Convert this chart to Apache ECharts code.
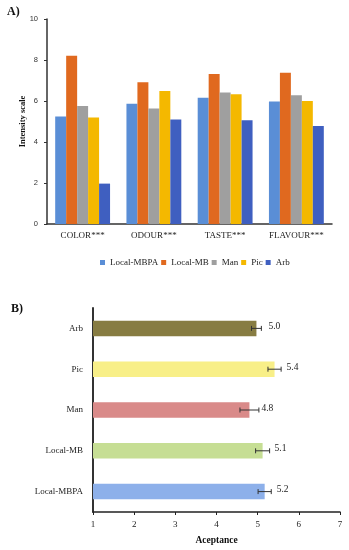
<!DOCTYPE html>
<html>
<head>
<meta charset="utf-8">
<script src="https://cdn.jsdelivr.net/npm/echarts@6/dist/echarts.min.js"></script>
<style>html,body{margin:0;padding:0;background:#fff;}#c{width:349px;height:550px;}</style>
</head>
<body>
<div id="c"></div>
<script>
// ---- Chart A data ----
var attributes = ['COLOR***', 'ODOUR***', 'TASTE***', 'FLAVOUR***'];
var intensityTicks = [0, 2, 4, 6, 8, 10];
var localMBPA = [5.25, 5.87, 6.16, 5.98];
var localMB   = [8.21, 6.91, 7.32, 7.38];
var man       = [5.76, 5.64, 6.42, 6.28];
var pic       = [5.20, 6.49, 6.33, 6.00];
var arb       = [1.97, 5.10, 5.06, 4.78];
var seriesNamesA = ['Local-MBPA', 'Local-MB', 'Man', 'Pic', 'Arb'];

// ---- Chart B data ----
var samples = ['Local-MBPA', 'Local-MB', 'Man', 'Pic', 'Arb'];
var acceptance = [5.17, 5.12, 4.80, 5.41, 4.97];
var acceptanceLabels = ['5.2', '5.1', '4.8', '5.4', '5.0'];
var acceptanceErr = [0.16, 0.17, 0.23, 0.16, 0.12];
var acceptanceTicks = [1, 2, 3, 4, 5, 6, 7];

var colorsA = ['#5a8ed6', '#e0691f', '#9f9f9f', '#f4b800', '#3f5fc0'];
var colorsB = ['#8db0ea', '#c6de94', '#d98a89', '#f8ef88', '#877c42'];
var serif = '"Liberation Serif", "DejaVu Serif", serif';

var chart = echarts.init(document.getElementById('c'), null, {renderer: 'canvas'});
var valsA = [localMBPA, localMB, man, pic, arb];

var seriesA = seriesNamesA.map(function (n, i) {
  return {
    name: n, type: 'bar', xAxisIndex: 0, yAxisIndex: 0,
    data: valsA[i], barGap: '0%', barCategoryGap: '23%',
    itemStyle: {color: colorsA[i]}, silent: true
  };
});

var option = {
  animation: false,
  textStyle: {fontFamily: serif},
  graphic: [
    {type: 'text', left: 7, top: 6, style: {text: 'A)', font: 'bold 12px ' + serif, fill: '#111'}},
    {type: 'text', left: 11, top: 303, style: {text: 'B)', font: 'bold 12px ' + serif, fill: '#111'}}
  ],
  legend: {
    data: seriesNamesA, left: 95, top: 253, itemWidth: 5, itemHeight: 5, itemGap: 3,
    icon: 'rect', textStyle: {fontFamily: serif, fontSize: 9, color: '#222'}
  },
  grid: [
    {left: 47, right: 17, top: 19, bottom: 326},
    {left: 93, right: 9, top: 308, bottom: 38}
  ],
  xAxis: [
    {type: 'category', gridIndex: 0, data: attributes,
     axisLine: {lineStyle: {color: '#333', width: 1.5}},
     axisTick: {show: false},
     axisLabel: {interval: 0, fontFamily: serif, fontSize: 9, color: '#222', margin: 7}},
    {type: 'value', gridIndex: 1, min: 1, max: 7, interval: 1,
     name: 'Aceptance', nameLocation: 'middle', nameGap: 24, nameMoveOverlap: false,
     nameTextStyle: {fontFamily: serif, fontSize: 9.5, fontWeight: 'bold', color: '#111'},
     axisLine: {show: true, lineStyle: {color: '#222', width: 1.5}},
     axisTick: {show: true, length: 3, lineStyle: {color: '#222'}},
     splitLine: {show: false},
     axisLabel: {fontFamily: serif, fontSize: 9, color: '#222', margin: 8}}
  ],
  yAxis: [
    {type: 'value', gridIndex: 0, min: 0, max: 10, interval: 2,
     name: 'Intensity scale', nameLocation: 'middle', nameGap: 20, nameMoveOverlap: false,
     nameTextStyle: {fontFamily: serif, fontSize: 8.5, fontWeight: 'bold', color: '#111'},
     axisLine: {show: true, lineStyle: {color: '#333', width: 1.5}},
     axisTick: {show: true, length: 3, lineStyle: {color: '#333'}},
     splitLine: {show: false},
     axisLabel: {fontFamily: '"Liberation Sans", sans-serif', fontSize: 7.5, color: '#333', margin: 9,
       formatter: function (v) { return intensityTicks.indexOf(v) >= 0 ? String(v) : ''; }}},
    {type: 'category', gridIndex: 1, data: samples,
     axisLine: {show: true, lineStyle: {color: '#333', width: 2}},
     axisTick: {show: false},
     axisLabel: {fontFamily: serif, fontSize: 9, color: '#222', margin: 10}}
  ],
  series: seriesA.concat([
    {type: 'bar', xAxisIndex: 1, yAxisIndex: 1, barWidth: 15.5, silent: true,
     data: acceptance.map(function (v, i) { return {value: v, itemStyle: {color: colorsB[i]}}; }),
     label: {show: true, position: 'right', distance: 12, fontFamily: serif, fontSize: 9.5, color: '#222',
       offset: [0, -2],
       formatter: function (p) { return acceptanceLabels[p.dataIndex]; }}},
    {type: 'custom', xAxisIndex: 1, yAxisIndex: 1, silent: true, z: 10,
     data: acceptance.map(function (v, i) { return [v - acceptanceErr[i], v + acceptanceErr[i], i]; }),
     renderItem: function (params, api) {
       var lo = api.coord([api.value(0), api.value(2)]);
       var hi = api.coord([api.value(1), api.value(2)]);
       var h = 2.5;
       var st = {stroke: '#333', lineWidth: 1};
       return {type: 'group', children: [
         {type: 'line', shape: {x1: lo[0], y1: lo[1], x2: hi[0], y2: hi[1]}, style: st},
         {type: 'line', shape: {x1: lo[0], y1: lo[1] - h, x2: lo[0], y2: lo[1] + h}, style: st},
         {type: 'line', shape: {x1: hi[0], y1: hi[1] - h, x2: hi[0], y2: hi[1] + h}, style: st}
       ]};
     },
     encode: {x: [0, 1], y: 2}}
  ])
};
chart.setOption(option);
</script>
</body>
</html>
